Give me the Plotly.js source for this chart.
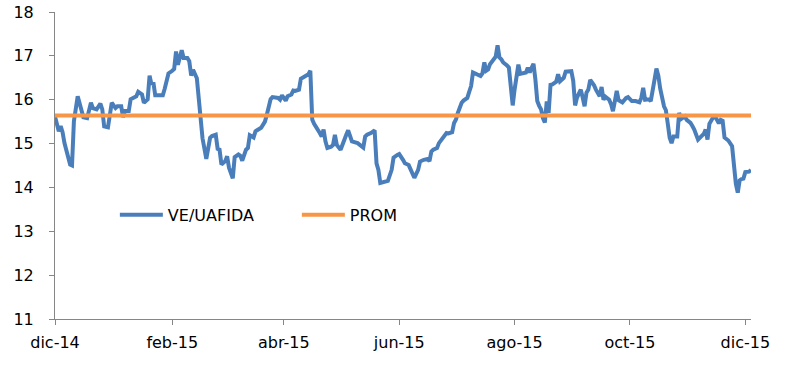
<!DOCTYPE html>
<html>
<head>
<meta charset="utf-8">
<script src="https://cdn.plot.ly/plotly-3.0.1.min.js"></script>
<style>html,body{margin:0;padding:0;background:#fff;}#chart{width:786px;height:378px;}</style>
</head>
<body>
<div id="chart"></div>
<script>
// Dates of the VE/UAFIDA series
const dates = [
  "2014-12-01","2014-12-02","2014-12-03","2014-12-04","2014-12-05","2014-12-06","2014-12-08","2014-12-09","2014-12-10","2014-12-11","2014-12-13","2014-12-14","2014-12-16","2014-12-18","2014-12-20","2014-12-21","2014-12-23","2014-12-25","2014-12-26","2014-12-27","2014-12-29","2014-12-31",
  "2015-01-02","2015-01-03","2015-01-05","2015-01-06","2015-01-07","2015-01-09","2015-01-10","2015-01-13","2015-01-14","2015-01-16","2015-01-17","2015-01-19","2015-01-20","2015-01-21","2015-01-22","2015-01-23","2015-01-27","2015-01-28","2015-01-30",
  "2015-02-01","2015-02-02","2015-02-03","2015-02-04","2015-02-06","2015-02-07","2015-02-09","2015-02-10","2015-02-11","2015-02-12","2015-02-14","2015-02-15","2015-02-17","2015-02-19","2015-02-20","2015-02-21","2015-02-22","2015-02-24","2015-02-25","2015-02-26","2015-02-27",
  "2015-03-01","2015-03-02","2015-03-03","2015-03-05","2015-03-06","2015-03-08","2015-03-09","2015-03-10","2015-03-12","2015-03-13","2015-03-14","2015-03-16","2015-03-17","2015-03-20","2015-03-22","2015-03-23","2015-03-25","2015-03-26","2015-03-29","2015-03-30","2015-03-31",
  "2015-04-02","2015-04-03","2015-04-05","2015-04-06","2015-04-07","2015-04-09","2015-04-10","2015-04-11","2015-04-12","2015-04-14","2015-04-15","2015-04-16","2015-04-17","2015-04-18","2015-04-20","2015-04-21","2015-04-22","2015-04-23","2015-04-24","2015-04-26","2015-04-27","2015-04-28","2015-04-29",
  "2015-05-01","2015-05-03","2015-05-04","2015-05-05","2015-05-07","2015-05-10","2015-05-12","2015-05-13","2015-05-14","2015-05-15","2015-05-17","2015-05-19","2015-05-20","2015-05-21","2015-05-22","2015-05-24","2015-05-26","2015-05-28","2015-05-29","2015-05-31",
  "2015-06-01","2015-06-03","2015-06-04","2015-06-06","2015-06-07","2015-06-08","2015-06-09","2015-06-11","2015-06-12","2015-06-14","2015-06-16","2015-06-17","2015-06-18","2015-06-19","2015-06-21","2015-06-22","2015-06-24","2015-06-25","2015-06-26","2015-06-27","2015-06-29","2015-06-30",
  "2015-07-01","2015-07-02","2015-07-04","2015-07-05","2015-07-07","2015-07-08","2015-07-09","2015-07-10","2015-07-12","2015-07-14","2015-07-15","2015-07-16","2015-07-17","2015-07-18","2015-07-19","2015-07-21","2015-07-22","2015-07-23","2015-07-24","2015-07-25","2015-07-26","2015-07-28","2015-07-29","2015-07-30","2015-07-31",
  "2015-08-01","2015-08-02","2015-08-03","2015-08-04","2015-08-05","2015-08-07","2015-08-08","2015-08-09","2015-08-10","2015-08-11","2015-08-12","2015-08-13","2015-08-14","2015-08-15","2015-08-16","2015-08-17","2015-08-18","2015-08-19","2015-08-20","2015-08-21","2015-08-23","2015-08-24","2015-08-25","2015-08-27","2015-08-28","2015-08-31",
  "2015-09-01","2015-09-02","2015-09-03","2015-09-05","2015-09-06","2015-09-07","2015-09-08","2015-09-09","2015-09-10","2015-09-12","2015-09-13","2015-09-15","2015-09-16","2015-09-17","2015-09-18","2015-09-20","2015-09-21","2015-09-22","2015-09-23","2015-09-24","2015-09-25","2015-09-27","2015-09-29","2015-09-30",
  "2015-10-02","2015-10-04","2015-10-06","2015-10-07","2015-10-08","2015-10-09","2015-10-11","2015-10-12","2015-10-14","2015-10-15","2015-10-16","2015-10-17","2015-10-19","2015-10-20","2015-10-21","2015-10-22","2015-10-23","2015-10-24","2015-10-26","2015-10-27","2015-10-28","2015-10-30","2015-10-31",
  "2015-11-02","2015-11-03","2015-11-04","2015-11-06","2015-11-07","2015-11-09","2015-11-10","2015-11-11","2015-11-12","2015-11-14","2015-11-15","2015-11-17","2015-11-18","2015-11-19","2015-11-20","2015-11-22","2015-11-24","2015-11-25","2015-11-26","2015-11-27","2015-11-28","2015-11-29","2015-11-30",
  "2015-12-01","2015-12-03","2015-12-04"
];

// VE/UAFIDA values
const veUafida = [
  15.62,15.43,15.28,15.40,15.26,15.01,14.63,14.52,14.50,15.51,16.08,15.89,15.60,15.58,15.93,15.81,15.78,15.91,15.78,15.39,15.37,15.93,
  15.81,15.85,15.85,15.60,15.74,15.74,16.01,16.08,16.18,16.12,15.93,16.01,16.55,16.35,16.40,16.10,16.10,16.25,16.60,
  16.66,16.70,17.10,16.80,17.13,16.95,16.95,16.88,16.55,16.68,16.49,16.00,15.12,14.65,14.93,15.13,15.17,15.20,14.88,14.86,14.52,
  14.60,14.71,14.45,14.21,14.69,14.75,14.72,14.61,14.86,14.90,15.19,15.14,15.28,15.36,15.50,15.66,16.01,16.06,16.04,16.00,16.10,
  15.98,16.08,16.12,16.21,16.20,16.23,16.48,16.50,16.54,16.58,16.66,15.55,15.45,15.39,15.24,15.16,15.32,15.05,14.90,14.93,14.97,15.20,14.97,
  14.86,15.05,15.20,15.30,15.05,15.01,14.93,14.91,15.16,15.20,15.24,15.30,14.55,14.40,14.10,14.12,14.15,14.40,14.68,14.74,
  14.76,14.63,14.55,14.51,14.40,14.32,14.22,14.40,14.59,14.63,14.65,14.60,14.82,14.86,14.90,15.01,15.13,15.20,15.24,15.23,15.26,15.47,
  15.55,15.70,15.93,15.98,16.04,16.18,16.31,16.62,16.59,16.54,16.60,16.85,16.66,16.69,16.81,16.92,16.98,17.24,16.96,16.92,16.85,16.78,16.73,16.30,15.87,
  16.23,16.54,16.80,16.59,16.60,16.62,16.73,16.62,16.73,16.82,16.46,15.97,15.86,15.78,15.58,15.48,15.96,15.70,16.34,16.35,16.41,16.58,16.42,16.50,16.64,16.65,
  16.43,15.87,16.05,16.23,16.05,15.85,16.16,16.23,16.45,16.33,16.23,16.08,16.29,16.00,16.07,16.00,15.90,15.74,15.96,16.20,15.99,15.94,16.04,16.06,
  15.97,15.97,15.94,16.04,16.27,16.00,16.01,15.97,16.46,16.71,16.55,16.25,15.85,15.76,15.45,15.13,15.01,15.16,15.16,15.70,15.56,15.62,15.54,
  15.47,15.40,15.32,15.09,15.13,15.22,15.32,15.09,15.45,15.60,15.62,15.46,15.54,15.52,15.14,15.07,14.94,14.46,14.08,13.88,14.16,14.19,14.20,
  14.35,14.36,14.40
];

// PROM (average) level
const promValue = 15.64;

// Axis ticks
const xTickVals = ["2014-12-01","2015-02-01","2015-04-01","2015-06-01","2015-08-01","2015-10-01","2015-12-01"];
const xTickText = ["dic-14","feb-15","abr-15","jun-15","ago-15","oct-15","dic-15"];
const yTickVals = [11,12,13,14,15,16,17,18];

const seriesNames = ["VE/UAFIDA","PROM"];

const firstDate = dates[0];
const lastDate = dates[dates.length - 1];
const promX = [firstDate, lastDate];
const promY = promX.map(() => promValue);

const FONT = {family: "DejaVu Sans, Verdana, sans-serif", size: 16, color: "#000000"};
const AXIS_COLOR = "#868686";

const traces = [
  {
    type: "scatter", mode: "lines", name: seriesNames[0],
    x: dates, y: veUafida,
    line: {color: "#4A7EBB", width: 4, shape: "linear"},
    hoverinfo: "x+y"
  },
  {
    type: "scatter", mode: "lines", name: seriesNames[1],
    x: promX, y: promY,
    line: {color: "#F79646", width: 4},
    hoverinfo: "x+y"
  }
];

const layout = {
  width: 786, height: 378,
  margin: {l: 55, r: 35, t: 12, b: 59, pad: 0},
  paper_bgcolor: "#ffffff", plot_bgcolor: "#ffffff",
  font: FONT,
  showlegend: true,
  legend: {
    orientation: "h", x: 0.086, xanchor: "left", y: 0.339, yanchor: "middle",
    font: FONT, itemwidth: 43, entrywidth: 124, entrywidthmode: "pixels",
    bgcolor: "rgba(0,0,0,0)", borderwidth: 0, traceorder: "normal"
  },
  xaxis: {
    type: "date", range: [firstDate, lastDate],
    showline: true, linecolor: AXIS_COLOR, linewidth: 1,
    ticks: "outside", ticklen: 5, tickcolor: AXIS_COLOR, tickwidth: 1,
    tickmode: "array", tickvals: xTickVals, ticktext: xTickText,
    showgrid: false, zeroline: false, tickfont: FONT, ticklabelstandoff: 4
  },
  yaxis: {
    range: [11, 18],
    showline: true, linecolor: AXIS_COLOR, linewidth: 1,
    ticks: "outside", ticklen: 5, tickcolor: AXIS_COLOR, tickwidth: 1,
    tickmode: "array", tickvals: yTickVals,
    showgrid: false, zeroline: false, tickfont: FONT, ticklabelstandoff: 12
  }
};

Plotly.newPlot("chart", traces, layout, {displayModeBar: false, staticPlot: true});
</script>
</body>
</html>
